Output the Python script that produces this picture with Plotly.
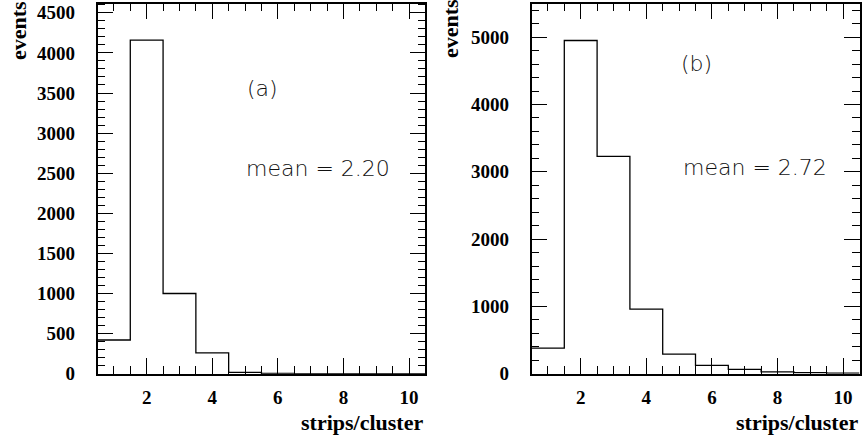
import plotly.graph_objects as go

# Data
strips = [1, 2, 3, 4, 5, 6, 7, 8, 9, 10]
events_a = [420, 4160, 1000, 260, 17, 4, 1, 0, 0, 0]
events_b = [380, 4950, 3230, 960, 290, 125, 65, 28, 15, 10]
x_ticks = [2, 4, 6, 8, 10]
y_ticks_a = [0, 500, 1000, 1500, 2000, 2500, 3000, 3500, 4000, 4500]
y_ticks_b = [0, 1000, 2000, 3000, 4000, 5000]
label_a = "(a)"
label_b = "(b)"
mean_a = "mean = 2.20"
mean_b = "mean = 2.72"


def step_xy(centers, counts):
    xs = [c - 0.5 for c in centers] + [centers[-1] + 0.5]
    ys = list(counts) + [counts[-1]]
    return xs, ys


fig = go.Figure()
xa, ya = step_xy(strips, events_a)
xb, yb = step_xy(strips, events_b)
fig.add_trace(go.Scatter(x=xa, y=ya, mode="lines", line=dict(shape="hv", color="black", width=1.3),
                         xaxis="x", yaxis="y", showlegend=False, hoverinfo="skip"))
fig.add_trace(go.Scatter(x=xb, y=yb, mode="lines", line=dict(shape="hv", color="black", width=1.3),
                         xaxis="x2", yaxis="y2", showlegend=False, hoverinfo="skip"))

W, H = 862, 436
tickfont = dict(family="Liberation Serif", size=19, color="black", weight="bold")

def xaxis_cfg(domain, anchor):
    return dict(domain=domain, anchor=anchor, range=[0.5, 10.5], tickvals=x_ticks,
                ticks="inside", ticklen=16, tickwidth=1.2, tickcolor="black",
                minor=dict(dtick=0.5, tick0=0.5, ticks="inside", ticklen=8, tickwidth=1.2, tickcolor="black"),
                showline=True, linecolor="black", linewidth=1.5, mirror="ticks",
                showgrid=False, zeroline=False, tickfont=tickfont, ticklabelstandoff=6,
                automargin=False)

def yaxis_cfg(domain, anchor, rng, tickvals, minor_dt):
    return dict(domain=domain, anchor=anchor, range=rng, tickvals=tickvals,
                ticks="inside", ticklen=16, tickwidth=1.2, tickcolor="black",
                minor=dict(dtick=minor_dt, tick0=0, ticks="inside", ticklen=8, tickwidth=1.2, tickcolor="black"),
                showline=True, linecolor="black", linewidth=1.5, mirror="ticks",
                showgrid=False, zeroline=False, tickfont=tickfont, ticklabelstandoff=17,
                automargin=False)

ybot = (H - 373.7) / H
ytop = (H - 3.5) / H

fig.update_layout(
    width=W, height=H,
    margin=dict(l=0, r=0, t=0, b=0, pad=0),
    paper_bgcolor="white", plot_bgcolor="white",
    xaxis=xaxis_cfg([97.5 / W, 425.4 / W], "y"),
    yaxis=yaxis_cfg([ybot, ytop], "x", [0, 4616], y_ticks_a, 100),
    xaxis2=xaxis_cfg([531.5 / W, 859.5 / W], "y2"),
    yaxis2=yaxis_cfg([ybot, ytop], "x2", [0, 5500], y_ticks_b, 200),
)

title_font = dict(family="Liberation Serif", size=22, color="black", weight="bold")
txt_font = dict(family="DejaVu Sans", size=22, color="#111", weight=200)
annos = [
    dict(text="events", x=19 / W, y=1 - 31 / H, textangle=-90),
    dict(text="events", x=451 / W, y=1 - 29 / H, textangle=-90),
]
for a in annos:
    a.update(xref="paper", yref="paper", showarrow=False, font=title_font, xanchor="center", yanchor="middle")
fig.add_annotation(text="strips/cluster", x=425.4 / W, y=1 - 422 / H, xref="paper", yref="paper",
                   showarrow=False, font=title_font, xanchor="right", yanchor="middle")
fig.add_annotation(text="strips/cluster", x=859.5 / W, y=1 - 422 / H, xref="paper", yref="paper",
                   showarrow=False, font=title_font, xanchor="right", yanchor="middle")
for a in annos:
    fig.add_annotation(**a)

fig.add_annotation(text=label_a, x=5.52, y=3560, xref="x", yref="y", showarrow=False, font=txt_font)
fig.add_annotation(text=mean_a, x=7.22, y=2563, xref="x", yref="y", showarrow=False, font=txt_font)
fig.add_annotation(text=label_b, x=5.52, y=4610, xref="x2", yref="y2", showarrow=False, font=txt_font)
fig.add_annotation(text=mean_b, x=7.31, y=3067, xref="x2", yref="y2", showarrow=False, font=txt_font)

fig.write_html("out.html", post_script="document.body.style.margin='0px';",
               config={"displayModeBar": False})
